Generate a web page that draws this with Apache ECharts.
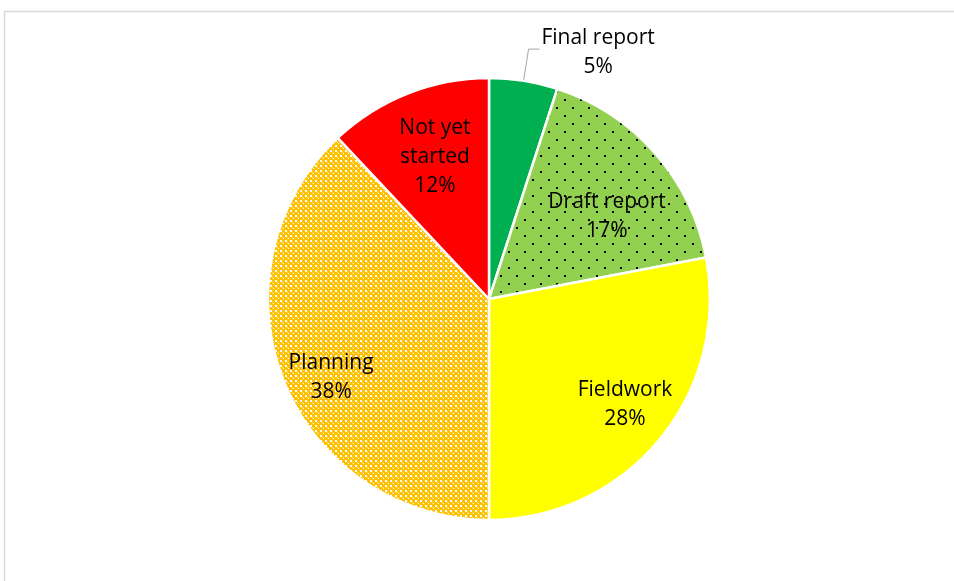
<!DOCTYPE html>
<html>
<head>
<meta charset="utf-8">
<style>
  html, body { margin: 0; padding: 0; background: #fff; }
  #chart { width: 954px; height: 581px; }
</style>
<script src="https://cdn.jsdelivr.net/npm/echarts@6/dist/echarts.min.js"></script>
</head>
<body>
<div id="chart"></div>
<script>
// Audit status breakdown
const stages = ['Final report', 'Draft report', 'Fieldwork', 'Planning', 'Not yet started'];
const stageLabels = ['Final report', 'Draft report', 'Fieldwork', 'Planning', 'Not yet\nstarted'];
const shares = [5, 17, 28, 38, 12];

// Inside label placement: [fraction of radius, angle clockwise from 12 o'clock]
const labelPolar = [null, [0.652, 55], [0.78, 127.9], [0.797, 243.7], [0.686, 339.1]];

const CX = 489, CY = 299, R = 221;

function dottedFill() {
  const c = document.createElement('canvas');
  c.width = 16; c.height = 16;
  const g = c.getContext('2d');
  g.fillStyle = '#92D050';
  g.fillRect(0, 0, 16, 16);
  g.fillStyle = '#000';
  g.fillRect(4, 3, 2, 2);
  g.fillRect(12, 11, 2, 2);
  return { image: c, repeat: 'repeat' };
}

function latticeFill() {
  const c = document.createElement('canvas');
  c.width = 5; c.height = 5;
  const g = c.getContext('2d');
  g.fillStyle = '#FFC000';
  g.fillRect(0, 0, 5, 5);
  g.fillStyle = '#FFFFFF';
  g.fillRect(0, 0, 2, 2);
  g.fillRect(3, 3, 1, 1);
  g.fillStyle = '#FFE08A';
  g.fillRect(2, 2, 1, 1);
  return { image: c, repeat: 'repeat' };
}

const fills = ['#00B050', dottedFill(), '#FFFF00', latticeFill(), '#FF0000'];

const chart = echarts.init(document.getElementById('chart'), null, { renderer: 'canvas' });

const baseFont = { fontFamily: 'Open Sans', fontSize: 21, color: '#000', lineHeight: 29 };

chart.setOption({
  animation: false,
  backgroundColor: '#fff',
  graphic: [{
    type: 'rect',
    shape: { x: 4.5, y: 11.5, width: 1200, height: 800 },
    style: { fill: 'none', stroke: '#D9D9D9', lineWidth: 1.5 },
    silent: true
  }],
  series: [{
    type: 'pie',
    center: [CX, CY],
    radius: [0, R],
    startAngle: 90,
    clockwise: true,
    avoidLabelOverlap: false,
    itemStyle: { borderColor: '#fff', borderWidth: 2.5 },
    label: Object.assign({ position: 'inside', formatter: (p) => stageLabels[p.dataIndex] + '\n' + p.value + '%' }, baseFont),
    labelLayout: function (p) {
      const pol = labelPolar[p.dataIndex];
      if (!pol) return { dy: 3 };
      const a = pol[1] * Math.PI / 180;
      return { x: CX + pol[0] * R * Math.sin(a), y: CY - pol[0] * R * Math.cos(a) };
    },
    data: stages.map((name, i) => {
      const item = { name: name, value: shares[i], itemStyle: { color: fills[i] } };
      if (i === 0) {
        item.label = {
          position: 'outside',
          distanceToLabelLine: 2,
          formatter: '{t|Final report}\n{t|' + shares[i] + '%}',
          rich: { t: Object.assign({ width: 113, align: 'center' }, baseFont) }
        };
        item.labelLine = {
          show: true, length: 32, length2: 11,
          lineStyle: { color: '#A6A6A6', width: 1 }
        };
      }
      return item;
    })
  }]
});
</script>
</body>
</html>
